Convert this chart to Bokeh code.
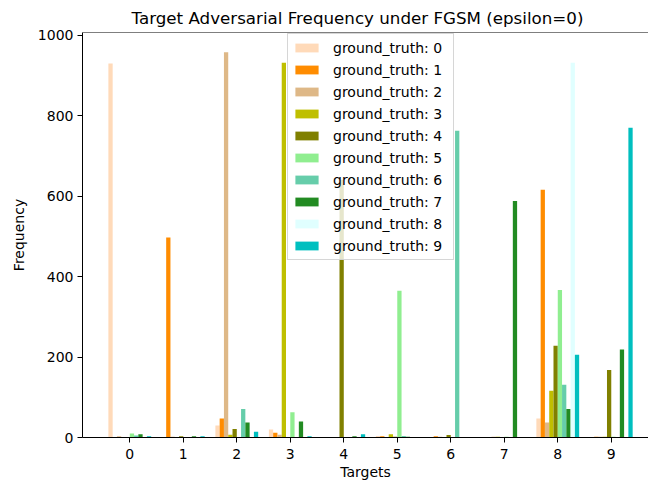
from bokeh.plotting import figure
from bokeh.models import Legend, LegendItem, Span, FixedTicker, Range1d
from bokeh.embed import file_html
from bokeh.resources import INLINE

targets = [0, 1, 2, 3, 4, 5, 6, 7, 8, 9]
series_labels = ["ground_truth: 0", "ground_truth: 1", "ground_truth: 2", "ground_truth: 3",
                 "ground_truth: 4", "ground_truth: 5", "ground_truth: 6", "ground_truth: 7",
                 "ground_truth: 8", "ground_truth: 9"]
colors = ["#FFDAB9", "#FF8C00", "#DEB887", "#BFBF00", "#808000",
          "#90EE90", "#66CDAA", "#228B22", "#E0FFFF", "#00BFBF"]

gt0 = [930, 0, 30, 20, 0, 4, 0, 0, 47, 0]
gt1 = [0, 497, 47, 12, 0, 3, 3, 0, 616, 2]
gt2 = [3, 2, 958, 7, 0, 0, 2, 2, 37, 2]
gt3 = [0, 0, 7, 932, 0, 8, 0, 2, 116, 2]
gt4 = [1, 3, 21, 1, 641, 2, 6, 0, 228, 168]
gt5 = [10, 0, 1, 63, 1, 365, 0, 2, 367, 2]
gt6 = [5, 0, 71, 0, 0, 4, 763, 0, 131, 0]
gt7 = [8, 3, 37, 40, 3, 2, 0, 588, 71, 219]
gt8 = [0, 0, 0, 0, 0, 0, 0, 0, 932, 0]
gt9 = [3, 3, 14, 3, 8, 1, 0, 0, 206, 770]
series = [gt0, gt1, gt2, gt3, gt4, gt5, gt6, gt7, gt8, gt9]

title_text = "Target Adversarial Frequency under FGSM (epsilon=0)"
x_label = "Targets"
y_label = "Frequency"
y_ticks = [0, 200, 400, 600, 800, 1000]

FONT = "DejaVu Sans"
bar_w = 0.08

p = figure(width=648, height=485, output_backend="svg", toolbar_location=None,
           x_range=Range1d(-0.884, 9.696), y_range=Range1d(0, 1007),
           min_border_left=82, min_border_right=0, min_border_top=30, min_border_bottom=48)
p.outline_line_color = None
p.xgrid.visible = False
p.ygrid.visible = False
p.background_fill_color = "white"

p.title.text = title_text
p.title.text_font = FONT
p.title.text_font_size = "16.7px"
p.title.text_font_style = "normal"
p.title.text_color = "black"
p.title.align = "left"
p.title.offset = 49
p.title.standoff = 10

items = []
for i, (vals, col, lab) in enumerate(zip(series, colors, series_labels)):
    xs = [t + (i - 4.5) * bar_w for t in targets]
    r = p.vbar(x=xs, top=vals, width=bar_w, bottom=0, fill_color=col, line_color=None)
    items.append(LegendItem(label=lab, renderers=[r]))

# top spine
p.add_layout(Span(location=1007, dimension="width", line_color="black", line_width=1))

for ax in (p.xaxis[0], p.yaxis[0]):
    ax.axis_line_color = "black"
    ax.axis_line_width = 1
    ax.major_tick_line_color = "black"
    ax.major_tick_in = 0
    ax.major_tick_out = 5
    ax.minor_tick_line_color = None
    ax.major_label_text_font = FONT
    ax.major_label_text_font_size = "14px"
    ax.major_label_text_color = "black"
    ax.axis_label_text_font = FONT
    ax.axis_label_text_font_size = "14px"
    ax.axis_label_text_font_style = "normal"
    ax.axis_label_text_color = "black"

p.xaxis.ticker = FixedTicker(ticks=targets)
p.yaxis.ticker = FixedTicker(ticks=y_ticks)
p.xaxis.axis_label = x_label
p.yaxis.axis_label = y_label
p.xaxis.major_label_standoff = 6
p.yaxis.major_label_standoff = 4
p.xaxis.axis_label_standoff = 2
p.yaxis.axis_label_standoff = 8

legend = Legend(items=items, location=(205, 177), orientation="vertical")
legend.label_text_font = FONT
legend.label_text_font_size = "14px"
legend.label_text_color = "black"
legend.glyph_width = 29
legend.glyph_height = 11
legend.label_height = 19
legend.label_width = 116
legend.spacing = 3
legend.padding = 4
legend.margin = 0
legend.label_standoff = 12
legend.border_line_color = "#cccccc"
legend.border_line_alpha = 0.8
legend.background_fill_color = "white"
legend.background_fill_alpha = 0.8
p.add_layout(legend, "center")

open("out.html", "w").write(file_html(p, INLINE))
